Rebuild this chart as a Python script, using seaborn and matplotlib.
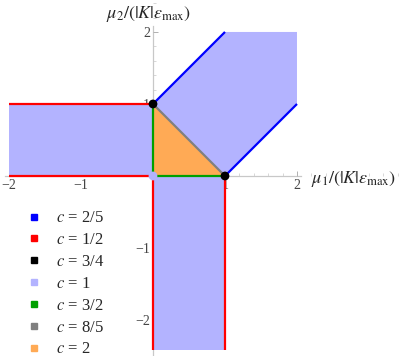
import numpy as np
import pandas as pd
import seaborn as sns
import matplotlib.pyplot as plt
from matplotlib.lines import Line2D
from matplotlib.ticker import MultipleLocator, FixedLocator

sns.set_style("white")
plt.rcParams['font.family'] = ['Liberation Serif', 'DejaVu Serif']
plt.rcParams['mathtext.fontset'] = 'stix'

# --- legend entries ---
c_labels = ["2/5", "1/2", "3/4", "1", "3/2", "8/5", "2"]
c_colors = ["#0000ff", "#ff0000", "#000000", "#b3b3ff", "#00a000", "#808080", "#ffaa55"]

# --- c = 1 regions (light blue) ---
left_strip_x = [-2, 0, 0, -2]
left_strip_y = [0, 0, 1, 1]
lower_strip_x = [0, 1, 1, 0]
lower_strip_y = [0, 0, -2.42, -2.42]
upper_region_x = [0, 1, 2, 2, 1]
upper_region_y = [1, 2, 2, 1, 0]

# --- c = 2 region (orange) ---
triangle_x = [0, 1, 0]
triangle_y = [0, 0, 1]

# --- line segments: (c label, x list, y list) ---
segments = [
    ("2/5", [0, 1], [1, 2]),
    ("2/5", [1, 2], [0, 1]),
    ("1/2", [-2, 0], [1, 1]),
    ("1/2", [-2, 0], [0, 0]),
    ("1/2", [0, 0], [0, -2.42]),
    ("1/2", [1, 1], [0, -2.42]),
    ("3/2", [0, 0, 1], [1, 0, 0]),
    ("8/5", [0, 1], [1, 0]),
]

# --- points ---
black_x = [0, 1]
black_y = [1, 0]
origin_x = [0]
origin_y = [0]

rows = []
for i, (c, xs, ys) in enumerate(segments):
    for k, (x, y) in enumerate(zip(xs, ys)):
        rows.append({'seg': i, 'order': k, 'x': x, 'y': y, 'c': c})
seg_df = pd.DataFrame(rows)

palette = dict(zip(c_labels, c_colors))

fig = plt.figure(figsize=(3.99, 3.56), dpi=100)
ax = fig.add_axes([0, 0, 1, 1])
ax.set_xlim(-2.125, 3.417)
ax.set_ylim(-2.5, 2.444)

# filled regions
for px, py in [(left_strip_x, left_strip_y), (lower_strip_x, lower_strip_y), (upper_region_x, upper_region_y)]:
    ax.fill(px, py, color=palette["1"], lw=0, zorder=1)
ax.fill(triangle_x, triangle_y, color=palette["2"], lw=0, zorder=1)

# boundary lines
sns.lineplot(data=seg_df, x='x', y='y', units='seg', hue='c', palette=palette,
             estimator=None, sort=False, legend=False, lw=1.6, ax=ax, zorder=3)
for line in ax.lines:
    line.set_solid_capstyle('butt')

# points
sns.scatterplot(x=black_x, y=black_y, color='black', s=40, edgecolor='none', ax=ax, zorder=5)
sns.scatterplot(x=origin_x, y=origin_y, color=palette["1"], s=40, edgecolor='none', ax=ax, zorder=5)
ax.set_xlabel('')
ax.set_ylabel('')

# Mathematica-like axes through the origin
for s in ['top', 'right']:
    ax.spines[s].set_visible(False)
ax.spines['left'].set_position('zero')
ax.spines['bottom'].set_position('zero')
ax.spines['bottom'].set_bounds(-2.05, 2.05)
ax.spines['left'].set_bounds(-2.5, 2.08)
for s in ['left', 'bottom']:
    ax.spines[s].set_color('#c8c8c8')
    ax.spines[s].set_linewidth(0.9)
    ax.spines[s].set_zorder(0.5)

ax.xaxis.set_major_locator(FixedLocator([-2, -1, 1, 2]))
ax.yaxis.set_major_locator(FixedLocator([-2, -1, 1, 2]))
ax.xaxis.set_minor_locator(MultipleLocator(0.2))
ax.yaxis.set_minor_locator(MultipleLocator(0.2))
ax.set_xticklabels(['\u22122', '\u22121', '1', '2'])
ax.set_yticklabels(['\u22122', '\u22121', '1', '2'])
ax.tick_params(which='major', direction='in', length=3.5, width=0.7, color='#b0b0b0',
               labelsize=10, labelcolor='#444444', pad=2)
ax.tick_params(which='minor', direction='in', length=2, width=0.5, color='#c8c8c8')
ax.tick_params(axis='x', bottom=True, which='both')
ax.tick_params(axis='y', left=True, which='both')

ax.text(0.779, 0.497, r'$\mu_1/(|K|\varepsilon_{\max})$', transform=ax.transAxes,
        fontsize=13, va='center', ha='left')
ax.text(0.373, 0.96, r'$\mu_2/(|K|\varepsilon_{\max})$', transform=ax.transAxes,
        fontsize=13, va='center', ha='center')

# legend
handles = [Line2D([], [], marker='s', ls='none', color=col, markersize=5) for col in c_colors]
labels = [r'$c$ = ' + c for c in c_labels]
ax.legend(handles, labels, loc='upper left', bbox_to_anchor=(0.065, 0.409),
          frameon=False, fontsize=12, handletextpad=0.8, labelspacing=0.35,
          handlelength=1.0, borderpad=0, borderaxespad=0)

fig.savefig('out.png', dpi=100)
